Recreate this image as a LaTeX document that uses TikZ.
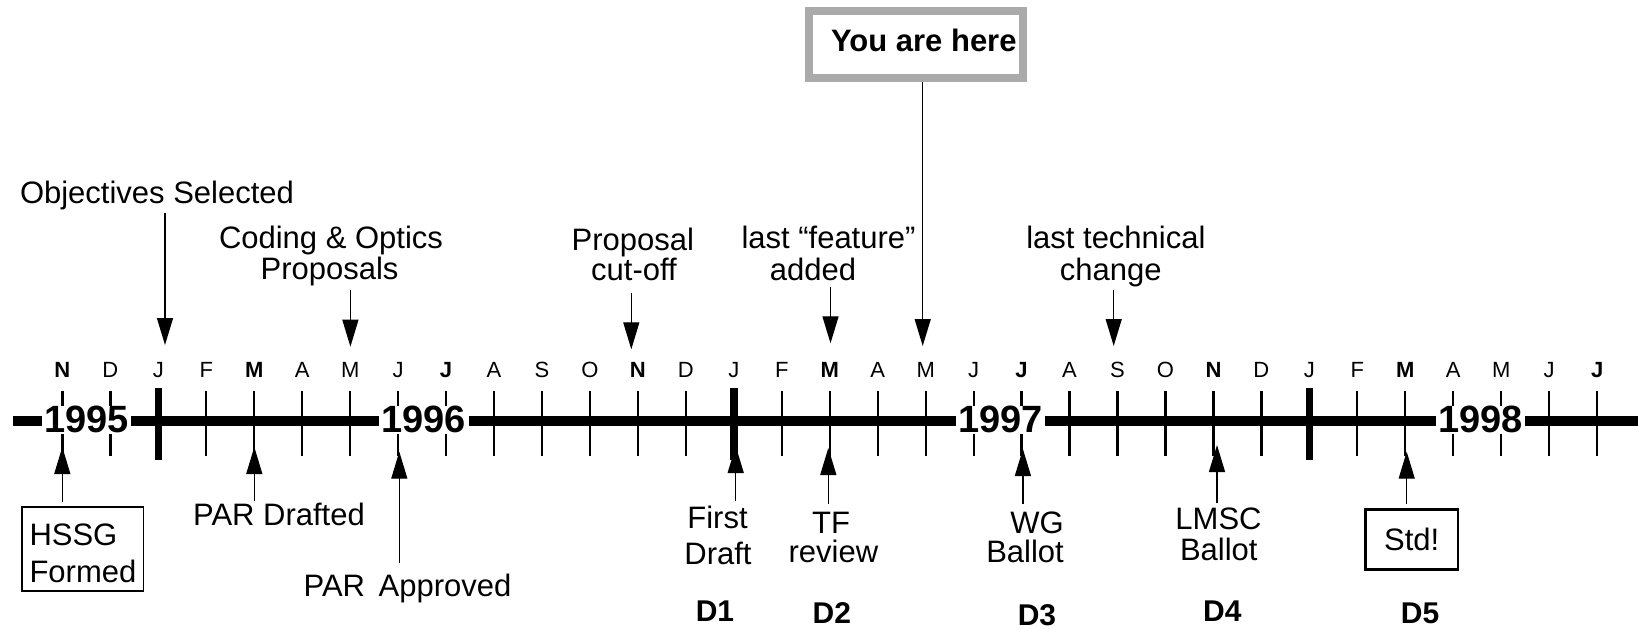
\documentclass[tikz,border=0pt]{standalone}
\usepackage{fontspec}
\setmainfont{Liberation Sans}
\usetikzlibrary{arrows.meta}
\definecolor{boxgray}{RGB}{170,170,170}
\newcommand\fsz[1]{\fontsize{#1}{#1}\selectfont}
\tikzset{
  lbl/.style={font=\fsz{31}, inner sep=0pt, anchor=base},
  mon/.style={font=\fsz{22}, inner sep=0pt, anchor=base},
  monb/.style={mon, font=\fsz{22}\bfseries},
  yr/.style={font=\fsz{38}\bfseries, fill=white, inner xsep=2.5pt, inner ysep=0.5pt, anchor=base},
  dl/.style={font=\fsz{30}\bfseries, inner sep=0pt, anchor=base},
  axisline/.style={line width=10pt},
  tickline/.style={line width=2.3pt},
  bigtick/.style={line width=7.5pt},
  conn/.style={line width=1.3pt, -{Triangle[length=27pt,width=16pt]}},
  framebox/.style={draw, line width=1.8pt, inner sep=0pt},
}
\begin{document}
\begin{tikzpicture}[x=1pt,y=-1pt]
\useasboundingbox (0,0) rectangle (1638,629);

% axis
\draw[axisline] (13.3,421) -- (1638,421);
% ticks
\foreach \i in {0,...,32}
  \draw[tickline] ({62.4+47.96*\i},391) -- ({62.4+47.96*\i},456);
\foreach \i in {2,14,26}
  \draw[bigtick] ({62.4+47.96*\i},388) -- ({62.4+47.96*\i},460);
% month labels
\foreach \m/\s [count=\i from 0] in {N/monb,D/mon,J/mon,F/mon,M/monb,A/mon,M/mon,J/mon,J/monb,A/mon,S/mon,O/mon,N/monb,D/mon,J/mon,F/mon,M/monb,A/mon,M/mon,J/mon,J/monb,A/mon,S/mon,O/mon,N/monb,D/mon,J/mon,F/mon,M/monb,A/mon,M/mon,J/mon,J/monb}
  \node[\s] (m\i) at ({62.4+47.96*\i},377) {\m};
% years
\node[yr] (y95) at (86.7,432.7) {1995};
\node[yr] (y96) at (423.8,432.7) {1996};
\node[yr] (y97) at (1000.7,432.7) {1997};
\node[yr] (y98) at (1480.4,432.7) {1998};

% top labels
\node[lbl] (obj) at (157,203.3) {Objectives Selected};
\node[lbl] (cod1) at (331,248.3) {Coding \& Optics};
\node[lbl] (cod2) at (329.5,279.3) {Proposals};
\node[lbl] (pco1) at (632.9,250.7) {Proposal};
\node[lbl] (pco2) at (634,280) {cut-off};
\node[lbl] (lf1) at (828.5,248.3) {last “feature”};
\node[lbl] (lf2) at (813,280) {added};
\node[lbl] (lt1) at (1115.9,248.3) {last technical};
\node[lbl] (lt2) at (1110.8,280) {change};

% you are here
\node[draw=boxgray, line width=7.5pt, minimum width=214.2pt, minimum height=66.9pt, inner sep=0pt] (herebox) at (915.85,44.5) {};
\node[font=\fsz{31}\bfseries, inner sep=0pt, anchor=base] (here) at (923.8,51.7) {You are here};

% arrow tips (top)
\coordinate (objT) at (165,345);
\coordinate (codT) at (350.4,346.7);
\coordinate (pcoT) at (631.3,349.3);
\coordinate (lfT) at (830.5,343.3);
\coordinate (hereT) at (922.7,346);
\coordinate (ltT) at (1113.7,346);

\draw[conn, shorten <=9.4pt] (obj.base -| objT) -- (objT);
\draw[conn, shorten <=10.7pt] (cod2.base -| codT) -- (codT);
\draw[conn, shorten <=12.7pt] (pco2.base -| pcoT) -- (pcoT);
\draw[conn, shorten <=7.3pt] (lf2.base -| lfT) -- (lfT);
\draw[conn] (herebox.south -| hereT) -- (hereT);
\draw[conn, shorten <=10pt] (lt2.base -| ltT) -- (ltT);

% bottom labels
\node[framebox, minimum width=121.8pt, minimum height=83.9pt, anchor=north west] (hssg) at (20.7,506) {};
\node[lbl, anchor=base west] (hssg1) at (29.3,545) {HSSG};
\node[lbl, anchor=base west] (hssg2) at (29.3,582.7) {Formed};
\node[lbl] (pard) at (279,525) {PAR Drafted};
\node[lbl] (para) at (407.5,596.7) {PAR\hspace{13.5pt}Approved};
\node[lbl] (fd1) at (717.5,528.3) {First};
\node[lbl] (fd2) at (718,564) {Draft};
\node[lbl] (tf1) at (831,533.3) {TF};
\node[lbl] (tf2) at (833.4,562.7) {review};
\node[lbl, anchor=base east] (wg1) at (1064,533.3) {WG};
\node[lbl, anchor=base east] (wg2) at (1064,562.7) {Ballot};
\node[lbl] (lm1) at (1218.5,529.3) {LMSC};
\node[lbl] (lm2) at (1218.8,560) {Ballot};
\node[framebox, line width=2.4pt, minimum width=92.3pt, minimum height=60pt, font=\fsz{31}] (std) at (1411.7,539.5) {Std!};

\node[dl] (d1) at (715,621.7) {D1};
\node[dl] (d2) at (831.8,623.3) {D2};
\node[dl] (d3) at (1037,625) {D3};
\node[dl] (d4) at (1222.4,621.7) {D4};
\node[dl] (d5) at (1420,623.3) {D5};

% arrow tips (bottom)
\coordinate (hssgT) at (62.3,447);
\coordinate (pardT) at (254.3,447);
\coordinate (paraT) at (399.3,451.7);
\coordinate (fdT) at (735.7,446);
\coordinate (tfT) at (828.3,448);
\coordinate (wgT) at (1022.9,449);
\coordinate (lmT) at (1217,445);
\coordinate (stdT) at (1406.7,451.7);

\draw[conn, shorten <=4.3pt] (hssg.north -| hssgT) -- (hssgT);
\draw[conn, shorten <=1pt] (pard.north -| pardT) -- (pardT);
\draw[conn, shorten <=10.8pt] (para.north -| paraT) -- (paraT);
\draw[conn, shorten <=4.4pt] (fd1.north -| fdT) -- (fdT);
\draw[conn, shorten <=7.8pt] (tf1.north -| tfT) -- (tfT);
\draw[conn, shorten <=7.3pt] (wg1.north -| wgT) -- (wgT);
\draw[conn, shorten <=4.9pt] (lm1.north -| lmT) -- (lmT);
\draw[conn, shorten <=4.3pt] (std.north -| stdT) -- (stdT);
\end{tikzpicture}
\end{document}
